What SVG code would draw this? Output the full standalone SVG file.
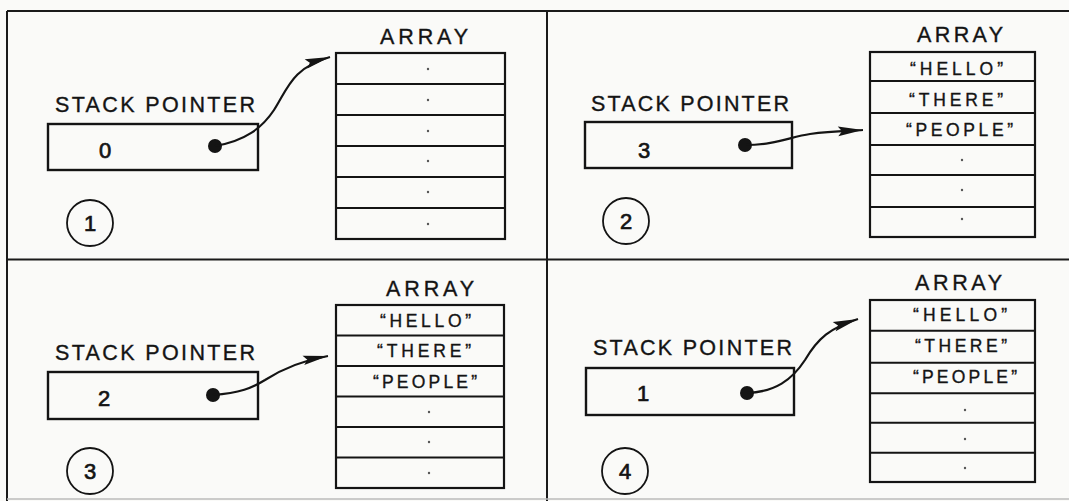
<svg xmlns="http://www.w3.org/2000/svg" width="1069" height="501" viewBox="0 0 1069 501">
<style>
.t{font-family:"Liberation Sans",Arial,sans-serif;fill:#141414;stroke:#141414;stroke-width:0.35}
.lbl{font-size:21.5px}
.val{font-size:22px;text-anchor:middle;stroke-width:0.7}
.ar{font-size:21.5px}
.cell{font-size:17.5px}
.box{fill:none;stroke:#141414;stroke-width:2.4}
.arr{fill:none;stroke:#141414;stroke-width:2.2}
.row{stroke:#141414;stroke-width:2}
.frame{stroke:#1a1a1a;stroke-width:2;fill:none}
.num{fill:none;stroke:#141414;stroke-width:1.8}
.dot{fill:#141414}
.pip{fill:#555}
.wire{fill:none;stroke:#141414;stroke-width:2.2;marker-end:url(#ah)}
</style>
<defs>
<marker id="ah" markerUnits="userSpaceOnUse" viewBox="-26 -6 28 12" markerWidth="28" markerHeight="12" refX="0" refY="0" orient="auto">
<path d="M0,0 L-25,-4.8 L-21,0 L-25,4.8 Z" fill="#141414"/>
</marker>
</defs>
<rect width="1069" height="501" fill="#fafaf8"/>
<g id="frame">
<path class="frame" d="M7,11 L1069,11 M7,11 L7,501 M547,11 L547,501 M7,259.5 L1069,259.5"/>
<path d="M7,499 L1069,499" stroke="#bbb" stroke-width="1.5"/>
</g>

<!-- Panel 1 -->
<g id="p1-pointer">
<text class="t lbl" x="55" y="112" textLength="200" lengthAdjust="spacing">STACK POINTER</text>
<rect class="box" x="48" y="124" width="210" height="46"/>
<text class="t val" x="105" y="157.5">0</text>
<circle class="dot" cx="215" cy="146" r="7"/>
</g>
<g id="p1-array">
<text class="t ar" x="380" y="44" textLength="88" lengthAdjust="spacing">ARRAY</text>
<rect class="arr" x="336" y="53" width="169" height="186"/>
<path class="row" d="M336,84H505M336,115H505M336,146H505M336,177H505M336,208H505"/>
<circle class="pip" cx="428" cy="69" r="1.2"/><circle class="pip" cx="428" cy="100" r="1.2"/><circle class="pip" cx="428" cy="131" r="1.2"/><circle class="pip" cx="428" cy="161" r="1.2"/><circle class="pip" cx="428" cy="192" r="1.2"/><circle class="pip" cx="428" cy="224" r="1.2"/>
</g>
<g id="p1-step">
<circle class="num" cx="90" cy="223" r="23"/>
<text class="t val" x="90" y="231">1</text>
</g>

<!-- Panel 2 -->
<g id="p2-pointer">
<text class="t lbl" x="591" y="111" textLength="198" lengthAdjust="spacing">STACK POINTER</text>
<rect class="box" x="585" y="122" width="207" height="46"/>
<text class="t val" x="644" y="157.5">3</text>
<circle class="dot" cx="745" cy="145" r="7"/>
</g>
<g id="p2-array">
<text class="t ar" x="917" y="42" textLength="86" lengthAdjust="spacing">ARRAY</text>
<rect class="arr" x="870" y="52" width="165" height="185"/>
<path class="row" d="M870,81H1035M870,113H1035M870,145H1035M870,175H1035M870,207H1035"/>
<text class="t cell" x="910" y="75" textLength="93" lengthAdjust="spacing">“HELLO”</text>
<text class="t cell" x="909" y="106" textLength="94" lengthAdjust="spacing">“THERE”</text>
<text class="t cell" x="906" y="136" textLength="107" lengthAdjust="spacing">“PEOPLE”</text>
<circle class="pip" cx="962" cy="160" r="1.2"/><circle class="pip" cx="962" cy="190" r="1.2"/><circle class="pip" cx="962" cy="219" r="1.2"/>
</g>
<g id="p2-step">
<circle class="num" cx="626" cy="221" r="23"/>
<text class="t val" x="626" y="229">2</text>
</g>

<!-- Panel 3 -->
<g id="p3-pointer">
<text class="t lbl" x="55" y="360" textLength="200" lengthAdjust="spacing">STACK POINTER</text>
<rect class="box" x="48" y="372" width="210" height="47"/>
<text class="t val" x="104" y="405.5">2</text>
<circle class="dot" cx="213" cy="395" r="7"/>
</g>
<g id="p3-array">
<text class="t ar" x="386" y="296" textLength="88" lengthAdjust="spacing">ARRAY</text>
<rect class="arr" x="336" y="305" width="168" height="183"/>
<path class="row" d="M336,335.5H504M336,366H504M336,396.5H504M336,427H504M336,457.5H504"/>
<text class="t cell" x="380" y="326.5" textLength="91" lengthAdjust="spacing">“HELLO”</text>
<text class="t cell" x="377" y="357" textLength="94" lengthAdjust="spacing">“THERE”</text>
<text class="t cell" x="373" y="387.5" textLength="104" lengthAdjust="spacing">“PEOPLE”</text>
<circle class="pip" cx="429" cy="412" r="1.2"/><circle class="pip" cx="429" cy="442" r="1.2"/><circle class="pip" cx="429" cy="473" r="1.2"/>
</g>
<g id="p3-step">
<circle class="num" cx="90" cy="471" r="23"/>
<text class="t val" x="90" y="479">3</text>
</g>

<!-- Panel 4 -->
<g id="p4-pointer">
<text class="t lbl" x="593" y="355" textLength="199" lengthAdjust="spacing">STACK POINTER</text>
<rect class="box" x="586" y="368" width="208" height="47"/>
<text class="t val" x="643" y="400.5">1</text>
<circle class="dot" cx="747" cy="393" r="7"/>
</g>
<g id="p4-array">
<text class="t ar" x="915" y="290" textLength="87" lengthAdjust="spacing">ARRAY</text>
<rect class="arr" x="870" y="300" width="165" height="182"/>
<path class="row" d="M870,330.7H1035M870,362.7H1035M870,393.3H1035M870,422.7H1035M870,452.7H1035"/>
<text class="t cell" x="913" y="321" textLength="94" lengthAdjust="spacing">“HELLO”</text>
<text class="t cell" x="915" y="352" textLength="92" lengthAdjust="spacing">“THERE”</text>
<text class="t cell" x="913" y="383" textLength="104" lengthAdjust="spacing">“PEOPLE”</text>
<circle class="pip" cx="965" cy="410" r="1.2"/><circle class="pip" cx="965" cy="439" r="1.2"/><circle class="pip" cx="965" cy="468" r="1.2"/>
</g>
<g id="p4-step">
<circle class="num" cx="625" cy="471" r="23"/>
<text class="t val" x="625" y="479">4</text>
</g>

<g id="connectors">
<path class="wire" d="M215,146 C245,141 262,128 274,110 C288,88 292,68 330,57"/>
<path class="wire" d="M745,145 C775,145 790,137 810,134 C830,131 845,131 863,130"/>
<path class="wire" d="M213,395 C240,393 252,388 265,380 C282,369 300,361 328,356"/>
<path class="wire" d="M747,393 C775,392 792,380 805,360 C818,338 830,328 858,319"/>
</g>
</svg>
